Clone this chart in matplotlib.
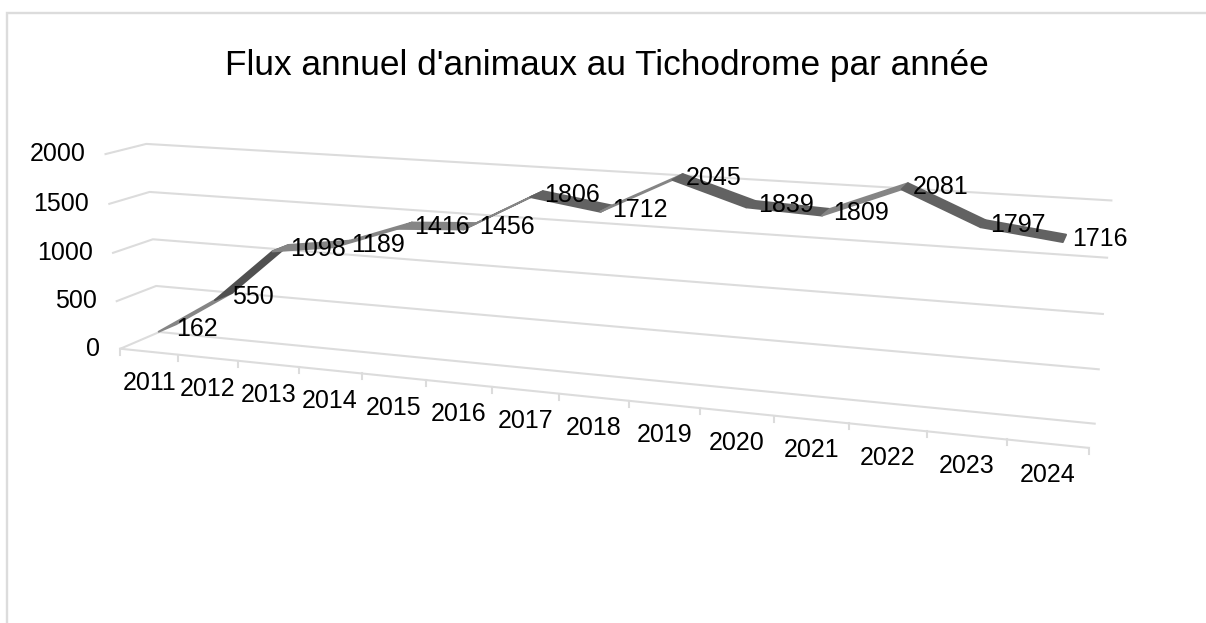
import numpy as np
import matplotlib
matplotlib.use("Agg")
import matplotlib.pyplot as plt

title = "Flux annuel d'animaux au Tichodrome par année"
years = [2011, 2012, 2013, 2014, 2015, 2016, 2017, 2018, 2019, 2020, 2021, 2022, 2023, 2024]
flux = [162, 550, 1098, 1189, 1416, 1456, 1806, 1712, 2045, 1839, 1809, 2081, 1797, 1716]
y_ticks = [0, 500, 1000, 1500, 2000]
label_dx = [29, 29, 37, 36, 37, 37, 35, 34, 36, 35, 35, 36, 35, 35]

W, H = 1206, 623
plt.rcParams['font.family'] = ['Liberation Sans', 'DejaVu Sans']
fig = plt.figure(figsize=(W / 100, H / 100), dpi=100, facecolor='white')
ax = fig.add_axes([0, 0, 1, 1])
ax.set_xlim(0, W)
ax.set_ylim(H, 0)
ax.axis('off')

# Perspective camera fitted on the corners of the 3D chart box: (category, depth, value) -> pixel
n = len(years)
anchors = [
    (0, 0, 0, 120, 348), (14, 0, 0, 1089, 448), (4, 0, 0, 362, 373), (7, 0, 0, 559, 395),
    (8, 0, 0, 629, 402), (11, 0, 0, 849, 423), (0, 1, 0, 160, 333), (14, 1, 0, 1095, 423),
    (0, 1, 500, 157, 286), (0, 1, 1000, 152, 239), (0, 1, 1500, 150, 192), (0, 1, 2000, 145, 144),
    (14, 1, 500, 1099, 369), (14, 1, 1000, 1102, 313), (14, 1, 1500, 1107, 258), (14, 1, 2000, 1112, 201),
    (0, 0, 500, 116, 300), (0, 0, 1000, 113, 253), (0, 0, 1500, 109, 204), (0, 0, 2000, 107, 154),
]
A = []
for cx, cy, cz, px, py in anchors:
    q = [cx, cy, cz / 1000, 1]
    A.append(q + [0, 0, 0, 0] + [-px * v for v in q])
    A.append([0, 0, 0, 0] + q + [-py * v for v in q])
P = np.linalg.svd(np.array(A, float))[2][-1].reshape(3, 4)


def project(cx, depth, value):
    cx, depth, value = np.broadcast_arrays(cx, depth, value)
    h = P @ np.vstack([cx, depth, value / 1000, np.ones_like(cx, dtype=float)])
    return h[0] / h[2], h[1] / h[2]


grid = '#dcdcdc'
for v in y_ticks:
    px, py = project([0, 0, n], [0, 1, 1], [v, v, v])
    ax.plot(px, py, color=grid, lw=1.5, solid_joinstyle='round')
px, py = project([0, n], [0, 0], [0, 0])
ax.plot(px, py, color=grid, lw=1.5)
for i in range(n + 1):
    px, py = project(i, 0, 0)
    ax.plot([px[0], px[0]], [py[0], py[0] + 6], color=grid, lw=1.5)

# Ribbon of the 3D line
pos = np.arange(n) + 0.5
d0, d1 = 0.27, 0.73
for i in range(n - 1):
    xs = pos[i:i + 2]
    vs = np.array(flux[i:i + 2], float)
    x0, y0 = project(xs, d0, vs)
    x1, y1 = project(xs, d1, vs)
    slope = vs[1] - vs[0]
    col = '#505050' if slope > 400 else ('#858585' if slope > 0 else '#626262')
    ax.fill(np.r_[x0, x1[::-1]], np.r_[y0, y1[::-1]], facecolor=col, edgecolor=col, lw=1.4,
            joinstyle='round', zorder=3)

fs = 18
for v in y_ticks:
    px, py = project(0, 0, v)
    ax.text(px[0] - 20, py[0], str(v), ha='right', va='center', fontsize=fs, color='black', zorder=5)
for i, y in enumerate(years):
    px, py = project(pos[i], 0, 0)
    ax.text(px[0], py[0] + 31, str(y), ha='center', va='center', fontsize=fs, color='black', zorder=5)
for i, v in enumerate(flux):
    px, py = project(pos[i], 0.5, v)
    ax.text(px[0] + label_dx[i], py[0] + 1, str(v), ha='center', va='center', fontsize=fs, color='black', zorder=5)

ax.text(607, 65, title, ha='center', va='center', fontsize=25.4, color='black')
ax.plot([7, 7, W], [H, 13, 13], color=grid, lw=1.7, solid_joinstyle='miter')

fig.savefig('out.png', dpi=100)
